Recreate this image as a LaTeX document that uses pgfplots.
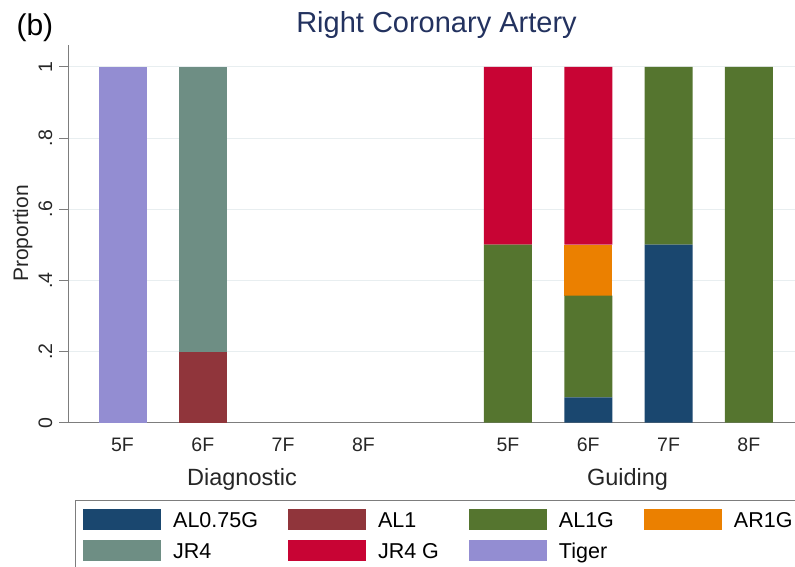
\documentclass[border=0pt]{standalone}
\usepackage{fontspec}
\setmainfont{Liberation Sans}
\usepackage{pgfplots}
\usepackage{pgfplotstable}
\pgfplotsset{compat=1.18}
\definecolor{cNavy}{RGB}{26,71,111}
\definecolor{cMaroon}{RGB}{144,53,59}
\definecolor{cGreen}{RGB}{85,117,47}
\definecolor{cOrange}{RGB}{235,128,0}
\definecolor{cTeal}{RGB}{110,142,132}
\definecolor{cCran}{RGB}{200,4,52}
\definecolor{cLav}{RGB}{147,141,210}
\definecolor{gridc}{RGB}{232,238,240}
\definecolor{axisc}{RGB}{125,125,125}
\definecolor{titlec}{RGB}{35,50,95}
\pgfplotstableread{
x     AL075G AL1  AL1G   AR1G   JR4  JR4G Tiger
0     0      0    0      0      0    0    1
1     0      0.2  0      0      0.8  0    0
4.8   0      0    0.5    0      0    0.5  0
5.8   0.0714 0    0.2857 0.1429 0    0.5  0
6.8   0.5    0    0.5    0      0    0    0
7.8   0      0    1      0      0    0    0
}\datatable
\pgfplotsset{swatch/.style={legend image code/.code={\fill[##1] (0pt,-10.5pt) rectangle (78pt,10.5pt);}}}
\begin{document}
\begin{tikzpicture}[x=1pt,y=1pt]
\useasboundingbox (0,0) rectangle (795,567);
\begin{axis}[
  at={(68pt,144.3pt)}, anchor=south west,
  scale only axis, width=727pt, height=377.7pt,
  xmin=-0.6787, xmax=8.3748, ymin=0, ymax=1.0612,
  ybar stacked, bar width=48pt,
  axis x line*=bottom, axis y line*=left,
  x axis line style={-, draw=axisc, line width=0.9pt},
  y axis line style={-, draw=axisc, line width=0.9pt},
  xtick={0,1,2,3,4.8,5.8,6.8,7.8},
  xticklabels={5F,6F,7F,8F,5F,6F,7F,8F},
  ytick={0,0.2,0.4,0.6,0.8,1},
  yticklabels={0,.2,.4,.6,.8,1},
  ymajorgrids, grid style={draw=gridc, line width=0.9pt},
  tick align=outside, major tick length=9pt,
  ytick style={draw=axisc, line width=0.9pt},
  xtick style={draw=none},
  tick label style={font=\fontsize{19.5}{21}\selectfont, text=black!85},
  xticklabel style={anchor=base, yshift=-19.5pt},
  yticklabel style={xshift=-7pt, rotate=90, anchor=base},
  legend columns=4,
  legend cell align=left,
  legend style={at={(0.02063,-0.2285)}, anchor=north west, draw=none, fill=none,
    inner sep=0pt, font=\fontsize{21.5}{24}\selectfont,
    nodes={inner sep=0pt, text height=15.4pt, text depth=0pt},
    /tikz/every odd column/.append style={column sep=12pt},
    /tikz/every even column/.append style={column sep=30pt},
    row sep=10pt},
]
\addplot[fill=cNavy, draw=none, swatch] table[x=x, y=AL075G] {\datatable};
\addlegendentry{AL0.75G}
\addplot[fill=cMaroon, draw=none, swatch] table[x=x, y=AL1] {\datatable};
\addlegendentry{AL1}
\addplot[fill=cGreen, draw=none, swatch] table[x=x, y=AL1G] {\datatable};
\addlegendentry{AL1G}
\addplot[fill=cOrange, draw=none, swatch] table[x=x, y=AR1G] {\datatable};
\addlegendentry{AR1G}
\addplot[fill=cTeal, draw=none, swatch] table[x=x, y=JR4] {\datatable};
\addlegendentry{JR4}
\addplot[fill=cCran, draw=none, swatch] table[x=x, y=JR4G] {\datatable};
\addlegendentry{JR4 G}
\addplot[fill=cLav, draw=none, swatch] table[x=x, y=Tiger] {\datatable};
\addlegendentry{Tiger}
\end{axis}
\node[anchor=base, text=titlec, font=\fontsize{29}{32}\selectfont] at (436.5,534) {Right Coronary Artery};
\node[anchor=base west, font=\fontsize{30}{32}\selectfont] at (13,531) {(b)};
\node[anchor=base, font=\fontsize{23.5}{26}\selectfont, text=black!85] at (242,81) {Diagnostic};
\node[anchor=base, font=\fontsize{23.5}{26}\selectfont, text=black!85] at (627.5,81) {Guiding};
\node[anchor=base, rotate=90, font=\fontsize{21}{24}\selectfont, text=black!85] at (28,333.5) {Proportion};
\draw[draw=axisc, line width=0.9pt] (75,67) rectangle (810,-10);
\end{tikzpicture}
\end{document}
